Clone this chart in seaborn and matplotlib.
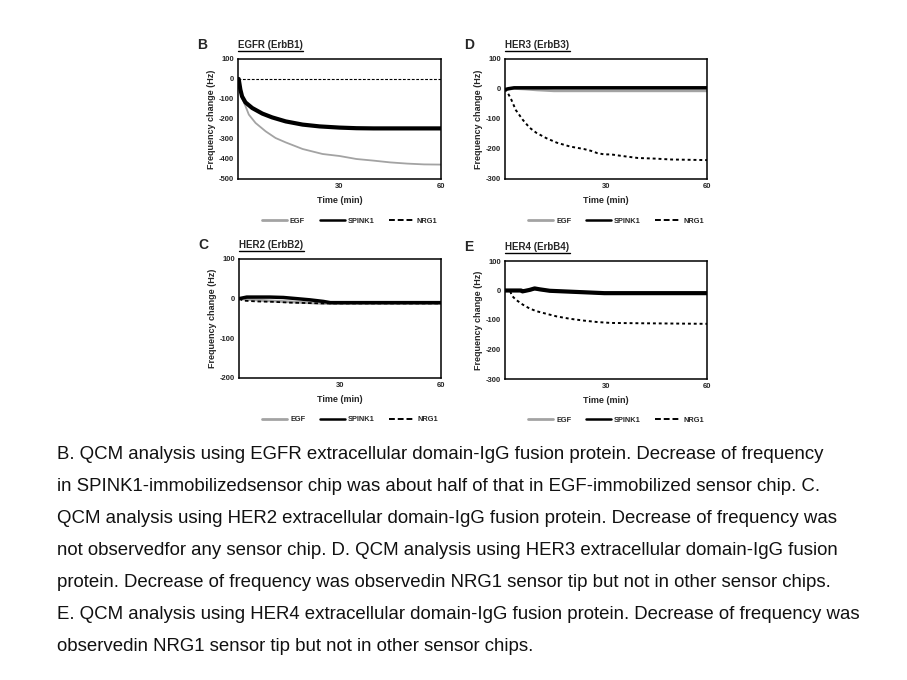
"""QCM frequency change panels (B-E) with caption."""

import matplotlib

matplotlib.use("Agg")
import matplotlib.pyplot as plt
from matplotlib.lines import Line2D
import seaborn as sns

# ---- data (time in min, frequency change in Hz) ----
# B: EGFR (ErbB1)
b_spink_t = [0, 0.2, 0.7, 1.2, 2.2, 4.2, 7.2, 10.1, 14.1, 19.1, 24.1, 30, 35, 40, 50, 60]
b_spink_y = [0, 0, -53, -87, -117, -145, -173, -192, -212, -228, -237, -243, -246, -247, -247, -247]
b_egf_t = [0, 0.2, 0.7, 1.2, 2.2, 3.2, 5.2, 8.2, 11.1, 14.1, 19.1, 25, 30, 35, 40, 45, 50, 55, 60]
b_egf_y = [0, 0, -55, -95, -135, -178, -220, -262, -295, -317, -350, -375, -385, -400, -408, -417, -423, -427, -428]
b_nrg_t = [0, 60]
b_nrg_y = [0, 0]

# C: HER2 (ErbB2)
c_spink_t = [0, 2.3, 5.3, 9.2, 13.2, 17.2, 21.1, 25.1, 27.1, 30, 40, 50, 60]
c_spink_y = [0, 4, 4, 4, 3, 0, -3, -7, -10, -10, -10, -10, -10]
c_egf_t = [0, 3, 8, 15.2, 25, 30, 40, 50, 60]
c_egf_y = [0, -2, -5, -8, -12, -12, -12, -12, -12]
c_nrg_t = [0, 1.3, 5.3, 10.2, 15.2, 20, 25, 30, 40, 50, 60]
c_nrg_y = [0, -5, -7, -8, -10, -11, -12, -12, -12, -12, -12]

# D: HER3 (ErbB3)
d_spink_t = [0, 1, 2.7, 10, 20, 30, 40, 50, 60]
d_spink_y = [-2, 1, 4, 4, 4, 4, 4, 4, 4]
d_egf_t = [0, 2.7, 6, 9.5, 14.5, 20, 30, 40, 50, 60]
d_egf_y = [-2, 2, 0, -3, -6, -6, -6, -6, -6, -6]
d_nrg_t = [0, 1, 1.7, 3.2, 5.3, 7.3, 9.3, 12.3, 15.4, 19.4, 23.4, 25.5, 27.5, 29.5, 31.5,
           34.6, 39.5, 44.5, 49.4, 60]
d_nrg_y = [0, -17, -31, -70, -103, -129, -146, -164, -179, -192, -200, -206, -214, -218, -218,
           -223, -230, -232, -235, -237]

# E: HER4 (ErbB4)
e_spink_t = [0, 4.8, 5.2, 7.3, 8.8, 10.3, 13.3, 19.4, 25.5, 29.5, 40, 50, 60]
e_spink_y = [0, 0, -3, 2, 7, 4, -1, -4, -7, -9, -9, -9, -9]
e_egf_t = e_spink_t
e_egf_y = [0, 0, -3, 1, 5, 3, -1, -4, -7, -9, -9, -9, -9]
e_nrg_t = [0, 1.5, 2, 3.2, 5.3, 7.3, 9.3, 12.3, 15.4, 19.4, 23.4, 27.5, 31.5, 40, 50, 60]
e_nrg_y = [0, 0, -17, -31, -48, -61, -70, -79, -88, -96, -102, -107, -110, -111, -112, -113]

caption_lines = [
    "B. QCM analysis using EGFR extracellular domain-IgG fusion protein. Decrease of frequency",
    "in SPINK1-immobilizedsensor chip was about half of that in EGF-immobilized sensor chip. C.",
    "QCM analysis using HER2 extracellular domain-IgG fusion protein. Decrease of frequency was",
    "not observedfor any sensor chip. D. QCM analysis using HER3 extracellular domain-IgG fusion",
    "protein. Decrease of frequency was observedin NRG1 sensor tip but not in other sensor chips.",
    "E. QCM analysis using HER4 extracellular domain-IgG fusion protein. Decrease of frequency was",
    "observedin NRG1 sensor tip but not in other sensor chips.",
]

sns.set_style("white")
plt.rcParams["font.family"] = ["Liberation Sans", "DejaVu Sans"]
plt.rcParams["axes.unicode_minus"] = False

EGF_COLOR = "#a3a3a3"


def draw_panel(ax, letter, title, ylim, egf, spink, nrg, egf_lw, spink_lw, nrg_style):
    """One QCM panel."""
    sns.lineplot(x=egf[0], y=egf[1], ax=ax, color=EGF_COLOR, lw=egf_lw)
    sns.lineplot(x=nrg[0], y=nrg[1], ax=ax, color="black", lw=nrg_style[0],
                 linestyle=nrg_style[1])
    sns.lineplot(x=spink[0], y=spink[1], ax=ax, color="black", lw=spink_lw)
    ax.set_xlim(0, 60)
    ax.set_ylim(*ylim)
    ax.set_xticks([30, 60])
    ax.set_yticks(range(ylim[0], ylim[1] + 1, 100))
    ax.tick_params(axis="both", direction="in", length=2.5, width=0.8, labelsize=5.5, pad=3)
    for lab in ax.get_xticklabels() + ax.get_yticklabels():
        lab.set_fontweight("bold")
    for sp in ax.spines.values():
        sp.set_visible(True)
        sp.set_color("black")
        sp.set_linewidth(1.1)
    ax.set_xlabel("Time (min)", fontsize=6.5, fontweight="bold", labelpad=4)
    ax.set_ylabel("Frequency change (Hz)", fontsize=6.5, fontweight="bold", labelpad=2)
    ax.text(-0.2, 1.12, letter, transform=ax.transAxes, fontsize=10, fontweight="bold",
            va="center", ha="left")
    ax.text(0.0, 1.12, title, transform=ax.transAxes, fontsize=7, fontweight="bold",
            va="center", ha="left")
    ax.plot([0.0, 0.32], [1.065, 1.065], transform=ax.transAxes, color="black", lw=1,
            clip_on=False)
    handles = [
        Line2D([], [], color=EGF_COLOR, lw=2),
        Line2D([], [], color="black", lw=1.8),
        Line2D([], [], color="black", lw=1.4, linestyle=(0, (3, 1.5))),
    ]
    ax.legend(handles, ["EGF", "SPINK1", "NRG1"], loc="center", bbox_to_anchor=(0.55, -0.35),
              ncol=3, frameon=False, handlelength=3.4, handletextpad=0.4, columnspacing=2.0,
              prop={"size": 5.3, "weight": "bold"})


fig = plt.figure(figsize=(9.07, 6.8), dpi=100)
W, H = 907, 680


def axes_at(left, top, right, bottom):
    return fig.add_axes([left / W, 1 - bottom / H, (right - left) / W, (bottom - top) / H])


ax_b = axes_at(238, 59, 441, 179)
ax_d = axes_at(505, 59, 707, 179)
ax_c = axes_at(239, 259, 441, 378)
ax_e = axes_at(505, 261, 707, 379)

draw_panel(ax_b, "B", "EGFR (ErbB1)", (-500, 100), (b_egf_t, b_egf_y), (b_spink_t, b_spink_y),
           (b_nrg_t, b_nrg_y), 1.3, 3, (0.8, (0, (2.5, 1.5))))
draw_panel(ax_d, "D", "HER3 (ErbB3)", (-300, 100), (d_egf_t, d_egf_y), (d_spink_t, d_spink_y),
           (d_nrg_t, d_nrg_y), 2, 2.5, (1.4, (0, (1.5, 1.5))))
draw_panel(ax_c, "C", "HER2 (ErbB2)", (-200, 100), (c_egf_t, c_egf_y), (c_spink_t, c_spink_y),
           (c_nrg_t, c_nrg_y), 2, 2.5, (1.3, (0, (2, 1.5))))
draw_panel(ax_e, "E", "HER4 (ErbB4)", (-300, 100), (e_egf_t, e_egf_y), (e_spink_t, e_spink_y),
           (e_nrg_t, e_nrg_y), 2, 3, (1.4, (0, (1.5, 1.5))))

for i, line in enumerate(caption_lines):
    fig.text(57 / W, 1 - (459 + 32 * i) / H, line, fontsize=13.4, va="baseline", ha="left",
             color="#111111")

plt.savefig("out.png", dpi=100)
